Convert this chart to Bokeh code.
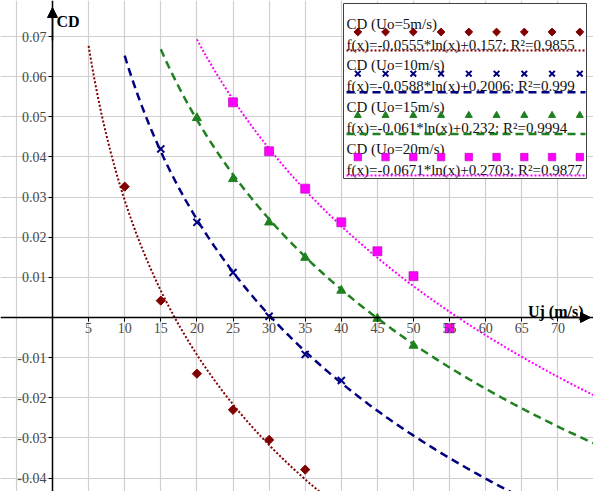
import numpy as np
from bokeh.plotting import figure
from bokeh.models import FixedTicker, PrintfTickFormatter, Arrow, NormalHead, Range1d
from bokeh.core.properties import value
from bokeh.embed import file_html
from bokeh.resources import INLINE

# ---- data ----
uj_5 = [10, 15, 20, 25, 30, 35]
cd_5 = [0.0326, 0.0042, -0.0140, -0.0230, -0.0305, -0.0379]
uj_10 = [15, 20, 25, 30, 35, 40]
cd_10 = [0.0420, 0.0237, 0.0112, 0.0003, -0.0092, -0.0157]
uj_15 = [20, 25, 30, 35, 40, 45, 50]
cd_15 = [0.0497, 0.0345, 0.0237, 0.0149, 0.0067, -0.0003, -0.0070]
uj_20 = [25, 30, 35, 40, 45, 50, 55]
cd_20 = [0.0536, 0.0414, 0.0321, 0.0237, 0.0165, 0.0103, -0.0027]

uo_speeds = [5, 10, 15, 20]
fit_a = [-0.0555, -0.0588, -0.061, -0.0671]
fit_b = [0.157, 0.2006, 0.232, 0.2703]
fit_r2 = [0.9855, 0.999, 0.9994, 0.9877]
fit_start = [5, 10, 15, 20]

x_ticks = [5, 10, 15, 20, 25, 30, 35, 40, 45, 50, 55, 60, 65, 70]
x_grid = [-5, 0] + x_ticks + [75]
y_ticks = [-0.04, -0.03, -0.02, -0.01, 0.01, 0.02, 0.03, 0.04, 0.05, 0.06, 0.07]
y_grid = sorted(y_ticks + [0.0])

# ---- layout ----
W, H = 593, 491
X0, X1 = -7.202, 74.93
Y0, Y1 = -0.04335, 0.07897
FONT = "'Liberation Serif', 'Times New Roman', serif"
SERIF = value(FONT)


def dx(px):  # canvas pixel -> data x
    return X0 + px / W * (X1 - X0)


def dy(py):  # canvas pixel -> data y
    return Y1 - py / H * (Y1 - Y0)


p = figure(width=W, height=H, x_range=Range1d(X0, X1), y_range=Range1d(Y0, Y1),
           output_backend="svg", toolbar_location=None, min_border=0,
           outline_line_color=None)

p.xaxis.fixed_location = 0
p.yaxis.fixed_location = 0
p.xaxis.ticker = FixedTicker(ticks=x_ticks)
p.yaxis.ticker = FixedTicker(ticks=y_ticks)
p.yaxis.formatter = PrintfTickFormatter(format="%.2f")
p.xgrid.ticker = FixedTicker(ticks=x_grid)
p.ygrid.ticker = FixedTicker(ticks=y_grid)
p.grid.grid_line_color = "#cfcfcf"
p.grid.grid_line_width = 1.2
p.axis.axis_line_color = "black"
p.axis.axis_line_width = 1.5
p.axis.major_tick_line_color = "black"
p.axis.minor_tick_line_color = None
p.axis.major_tick_in = 0
p.axis.major_tick_out = 4
p.axis.major_label_text_font = FONT
p.axis.major_label_text_font_size = "14px"
p.axis.major_label_text_color = "#484848"
p.yaxis.major_label_standoff = 2
p.xaxis.major_label_standoff = 2

colors = ["#800000", "#000080", "#1f801f", "#ff00ff"]
edge = ["#800000", "#000080", "#1f801f", "#b000b0"]
dashes = ["2 2", "8 5", "8 5", "2 2"]
widths = [2, 2.5, 2.5, 2]
markers = ["square", "x", "triangle", "square"]
angles = [np.pi / 4, 0, 0, 0]
msize = [6.5, 10, 9, 9]
lsize = [5.5, 8, 7, 7.5]
mlw = [1, 2, 1, 0.6]
series = [(uj_5, cd_5), (uj_10, cd_10), (uj_15, cd_15), (uj_20, cd_20)]

for i in range(4):
    xs = np.linspace(fit_start[i], 80, 300)
    ys = fit_a[i] * np.log(xs) + fit_b[i]
    p.line(xs, ys, line_color=colors[i], line_dash=dashes[i], line_width=widths[i])

for i in range(4):
    ux, cy = series[i]
    p.scatter(ux, cy, marker=markers[i], size=msize[i], angle=angles[i],
              fill_color=colors[i], line_color=edge[i], line_width=mlw[i])

# axis arrows and labels
p.add_layout(Arrow(end=NormalHead(size=10, fill_color="black", line_color="black"),
                   x_start=0, y_start=dy(40), x_end=0, y_end=dy(7), line_width=1.5))
p.add_layout(Arrow(end=NormalHead(size=10, fill_color="black", line_color="black"),
                   x_start=dx(560), y_start=0, x_end=dx(590), y_end=0, line_width=1.5))
p.text(x=[dx(56)], y=[dy(21)], text=["CD"], text_font=SERIF, text_font_size="16px",
       text_font_style="bold", text_baseline="alphabetic", text_color="black")
p.text(x=[dx(583)], y=[dy(311)], text=["Uj (m/s)"], text_font=SERIF, text_font_size="16px",
       text_font_style="bold", text_baseline="alphabetic", text_align="right", text_color="black")

# legend box
p.quad(left=[dx(343)], right=[dx(586)], top=[dy(3)], bottom=[dy(178)],
       fill_color="white", line_color="#404040", line_width=1)
step = 41.7
for i in range(4):
    off = step * i
    title = f"CD (Uo={uo_speeds[i]}m/s)"
    formula = f"f(x)={fit_a[i]}*ln(x)+{fit_b[i]}; R\u00b2={fit_r2[i]}"
    p.text(x=[dx(346)], y=[dy(23 + off)], text=[title], text_font=SERIF, text_font_size="15px",
           text_baseline="alphabetic", text_color="#111111")
    mx = [dx(357.3 + 27.75 * k) for k in range(9)]
    my = [dy(31.5 + off)] * 9
    p.scatter(mx, my, marker=markers[i], size=lsize[i], angle=angles[i],
              fill_color=colors[i], line_color=edge[i], line_width=mlw[i])
    p.text(x=[dx(346)], y=[dy(44 + off)], text=[formula], text_font=SERIF, text_font_size="15px",
           text_baseline="alphabetic", text_color="#111111")
    p.line([dx(346), dx(585)], [dy(50 + off)] * 2, line_color=colors[i], line_dash=dashes[i],
           line_width=widths[i])

open("out.html", "w").write(file_html(p, INLINE))
